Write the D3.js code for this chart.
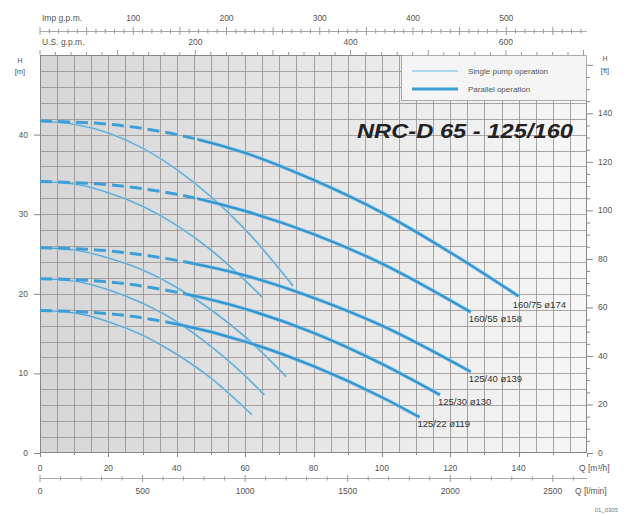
<!DOCTYPE html>
<html><head><meta charset="utf-8">
<script src="https://cdn.jsdelivr.net/npm/d3@7"></script>
<style>
html,body{margin:0;padding:0;background:#fff;}
text{font-family:"Liberation Sans",Arial,sans-serif;}
</style></head>
<body>
<svg id="chart" width="637" height="515"></svg>
<script>
// ---------------- data ----------------
const curveLabels = ["160/75 ø174", "160/55 ø158", "125/40 ø139", "125/30 ø130", "125/22 ø119"];
// parallel operation curves [Q m3/h, H m]
const parallelCurves = [
  [[0,41.7],[20,41.3],[40,40.0],[60,37.7],[80,34.3],[100,30.2],[120,25.2],[140,19.7]],
  [[0,34.1],[20,33.7],[40,32.5],[60,30.4],[80,27.5],[100,23.8],[126,17.7]],
  [[0,25.8],[20,25.4],[40,24.2],[60,22.3],[80,19.5],[100,16.0],[126,10.2]],
  [[0,21.9],[20,21.5],[40,20.2],[60,18.1],[80,15.1],[100,11.2],[117,7.3]],
  [[0,17.9],[20,17.5],[40,16.2],[60,14.0],[80,10.9],[100,7.0],[111,4.5]]
];
// single pump curves [Q m3/h, H m]
const singleCurves = [
  [[0,41.7],[10,41.3],[20,40.2],[30,38.3],[40,35.6],[50,32.2],[60,28.1],[74,21.0]],
  [[0,34.1],[10,33.8],[20,32.7],[30,31.0],[40,28.6],[50,25.5],[65,19.6]],
  [[0,25.8],[10,25.5],[20,24.5],[30,23.0],[40,20.8],[50,18.0],[60,14.6],[72,9.6]],
  [[0,21.9],[10,21.6],[20,20.5],[30,18.8],[40,16.5],[50,13.4],[60,9.7],[65.6,7.3]],
  [[0,17.9],[10,17.6],[20,16.5],[30,14.8],[40,12.4],[50,9.4],[62,4.8]]
];
// parallel curves are dashed up to this flow
const dashedUntil = [46, 46, 45, 43, 38];

const qTicks = [0,20,40,60,80,100,120,140];
const lminTicks = [0,500,1000,1500,2000,2500];
const impTicks = [100,200,300,400,500];
const usTicks = [200,400,600];
const mTicks = [0,10,20,30,40];
const ftTicks = [0,20,40,60,80,100,120,140];
const legendItems = ["Single pump operation", "Parallel operation"];
const title = "NRC-D 65 - 125/160";

// ---------------- layout ----------------
const L = 40, R = 587, T = 55, B = 453;
const x = d3.scaleLinear().domain([0,160]).range([L,R]);
const y = d3.scaleLinear().domain([0,50]).range([B,T]);
const xL = d3.scaleLinear().domain([0,160*1000/60]).range([L,R]);      // l/min
const xImp = d3.scaleLinear().domain([0,160*3.6662]).range([L,R]);    // Imp gpm
const xUS = d3.scaleLinear().domain([0,160*4.4029]).range([L,R]);     // US gpm
const yFt = d3.scaleLinear().domain([0,50*3.28084]).range([B,T]);

const svg = d3.select("#chart");
const defs = svg.append("defs");
const grad = defs.append("linearGradient").attr("id","bg").attr("x1","0").attr("x2","1").attr("y1","0").attr("y2","0");
grad.append("stop").attr("offset","0").attr("stop-color","#d6d6d6");
grad.append("stop").attr("offset","0.55").attr("stop-color","#e8e8e8");
grad.append("stop").attr("offset","1").attr("stop-color","#f7f7f7");

svg.append("rect").attr("x",L).attr("y",T).attr("width",R-L).attr("height",B-T).attr("fill","url(#bg)");

// grid
const gGrid = svg.append("g").attr("stroke","#8a8a8a").attr("stroke-opacity",0.75).attr("stroke-width",1);
gGrid.selectAll("line.v").data(d3.range(5,160,5)).join("line")
  .attr("x1",d=>Math.round(x(d))+0.5).attr("x2",d=>Math.round(x(d))+0.5).attr("y1",T).attr("y2",B);
gGrid.selectAll("line.h").data(d3.range(2,50,2)).join("line")
  .attr("y1",d=>Math.round(y(d))+0.5).attr("y2",d=>Math.round(y(d))+0.5).attr("x1",L).attr("x2",R)
  .attr("stroke","#968b8b");
svg.append("rect").attr("x",L+0.5).attr("y",T+0.5).attr("width",R-L-1).attr("height",B-T-1)
  .attr("fill","none").attr("stroke","#888").attr("stroke-width",1);

// legend
const lg = svg.append("g");
lg.append("rect").attr("x",401.5).attr("y",T+0.5).attr("width",R-401.5-0.5).attr("height",45)
  .attr("fill","#f5f5f5").attr("stroke","#aaa");
legendItems.forEach((t,i)=>{
  const yy = 71 + i*18;
  lg.append("line").attr("x1",412).attr("x2",458).attr("y1",yy).attr("y2",yy)
    .attr("stroke", i===0 ? "#a9d5ef" : "#3d9fd6").attr("stroke-width", i===0 ? 2 : 3);
  lg.append("text").attr("x",468).attr("y",yy+3).attr("font-size",8).attr("fill","#555").text(t);
});

// title
svg.append("text").attr("x",357).attr("y",138).attr("font-size",21).attr("font-weight","bold")
  .attr("font-style","italic").attr("fill","#222").attr("textLength",216).attr("lengthAdjust","spacingAndGlyphs")
  .text(title);

// curves
const line = d3.line().x(d=>x(d[0])).y(d=>y(d[1])).curve(d3.curveMonotoneX);
const gC = svg.append("g").attr("fill","none").attr("stroke-linecap","butt");
singleCurves.forEach(c=>{
  gC.append("path").attr("d",line(c)).attr("stroke","#a9d6f0").attr("stroke-width",2.8).attr("stroke-opacity",0.75);
  gC.append("path").attr("d",line(c)).attr("stroke","#5a9fc8").attr("stroke-width",1.1);
});
parallelCurves.forEach((c,i)=>{
  const xd = x(dashedUntil[i]);
  defs.append("clipPath").attr("id","cd"+i).append("rect").attr("x",0).attr("y",0).attr("width",xd).attr("height",515);
  defs.append("clipPath").attr("id","cs"+i).append("rect").attr("x",xd).attr("y",0).attr("width",637-xd).attr("height",515);
  gC.append("path").attr("d",line(c)).attr("clip-path","url(#cd"+i+")")
    .attr("stroke","#3d9fd6").attr("stroke-width",3).attr("stroke-dasharray","12,6");
  gC.append("path").attr("d",line(c)).attr("clip-path","url(#cs"+i+")")
    .attr("stroke","#8fcaee").attr("stroke-width",4.2).attr("stroke-opacity",0.6);
  gC.append("path").attr("d",line(c)).attr("clip-path","url(#cs"+i+")")
    .attr("stroke","#3396cf").attr("stroke-width",2.4);
});
// curve labels
const labelOffsets = [[-6,12],[-2,10],[-2,10],[-2,10],[-2,10]];
parallelCurves.forEach((c,i)=>{
  const e = c[c.length-1];
  svg.append("text").attr("x",x(e[0])+labelOffsets[i][0]).attr("y",y(e[1])+labelOffsets[i][1])
    .attr("font-family","'Liberation Serif',serif").attr("font-size",9.5).attr("fill","#333").text(curveLabels[i]);
});

// axes styling
const tick = {fs:8.5, col:"#555"};
// left m axis
const gl = svg.append("g").attr("stroke","#888");
gl.selectAll("line").data(mTicks).join("line").attr("x1",34).attr("x2",L).attr("y1",d=>y(d)+0.5).attr("y2",d=>y(d)+0.5);
svg.append("g").selectAll("text").data(mTicks).join("text").attr("x",28).attr("y",d=>y(d)+3)
  .attr("text-anchor","end").attr("font-size",tick.fs).attr("fill",tick.col).text(d=>d);
svg.append("text").attr("x",20).attr("y",63).attr("text-anchor","middle").attr("font-size",7).attr("fill",tick.col).text("H");
svg.append("text").attr("x",20).attr("y",74).attr("text-anchor","middle").attr("font-size",7.5).attr("fill",tick.col).text("[m]");

// right ft axis
const gr = svg.append("g").attr("stroke","#888");
gr.selectAll("line.m").data(d3.range(0,161,5)).join("line")
  .attr("x1",R).attr("x2",d=>d%20===0?R+6:R+3).attr("y1",d=>yFt(d)+0.5).attr("y2",d=>yFt(d)+0.5);
svg.append("g").selectAll("text").data(ftTicks).join("text").attr("x",598).attr("y",d=>yFt(d)+3)
  .attr("font-size",tick.fs).attr("fill",tick.col).text(d=>d);
svg.append("text").attr("x",605).attr("y",61).attr("text-anchor","middle").attr("font-size",7).attr("fill",tick.col).text("H");
svg.append("text").attr("x",605).attr("y",73).attr("text-anchor","middle").attr("font-size",7.5).attr("fill",tick.col).text("[ft]");

// bottom m3/h axis
svg.append("g").attr("stroke","#888").selectAll("line").data(d3.range(0,161,10)).join("line")
  .attr("x1",d=>Math.round(x(d))+0.5).attr("x2",d=>Math.round(x(d))+0.5).attr("y1",B).attr("y2",d=>d%20===0?B+4:B+2);
svg.append("g").selectAll("text").data(qTicks).join("text").attr("x",d=>x(d)).attr("y",471)
  .attr("text-anchor","middle").attr("font-size",tick.fs).attr("fill",tick.col).text(d=>d);
svg.append("text").attr("x",579).attr("y",471).attr("font-size",tick.fs).attr("fill",tick.col).text("Q [m³/h]");

// l/min axis
svg.append("line").attr("x1",L).attr("x2",R).attr("y1",478.5).attr("y2",478.5).attr("stroke","#aaa");
svg.append("g").attr("stroke","#999").selectAll("line").data(d3.range(0,2667,100)).join("line")
  .attr("x1",d=>xL(d)).attr("x2",d=>xL(d)).attr("y1",d=>d%500===0?475:476.5).attr("y2",d=>d%500===0?482:480.5);
svg.append("g").selectAll("text").data(lminTicks).join("text").attr("x",d=>xL(d)).attr("y",494)
  .attr("text-anchor","middle").attr("font-size",tick.fs).attr("fill",tick.col).text(d=>d);
svg.append("text").attr("x",575).attr("y",494).attr("font-size",tick.fs).attr("fill",tick.col).text("Q [l/min]");

// top Imp gpm axis
svg.append("line").attr("x1",L).attr("x2",R).attr("y1",31.5).attr("y2",31.5).attr("stroke","#aaa");
svg.append("g").attr("stroke","#999").selectAll("line").data(d3.range(0,587,10)).join("line")
  .attr("x1",d=>xImp(d)).attr("x2",d=>xImp(d)).attr("y1",d=>d%50===0?27:29).attr("y2",d=>d%50===0?35:33.5);
svg.append("g").selectAll("text").data(impTicks).join("text").attr("x",d=>xImp(d)).attr("y",21)
  .attr("text-anchor","middle").attr("font-size",tick.fs).attr("fill",tick.col).text(d=>d);
svg.append("text").attr("x",42).attr("y",21).attr("font-size",tick.fs).attr("fill",tick.col).text("Imp g.p.m.");

// top US gpm axis
svg.append("g").attr("stroke","#999").selectAll("line").data(d3.range(0,705,20)).join("line")
  .attr("x1",d=>xUS(d)).attr("x2",d=>xUS(d)).attr("y1",T).attr("y2",d=>d%100===0?T-5:T-3);
svg.append("g").selectAll("text").data(usTicks).join("text").attr("x",d=>xUS(d)).attr("y",45)
  .attr("text-anchor","middle").attr("font-size",tick.fs).attr("fill",tick.col).text(d=>d);
svg.append("text").attr("x",42).attr("y",45).attr("font-size",tick.fs).attr("fill",tick.col).text("U.S. g.p.m.");

// footer code
svg.append("text").attr("x",618).attr("y",512).attr("text-anchor","end").attr("font-size",6).attr("fill","#777").text("01_0305");
</script>
</body></html>
